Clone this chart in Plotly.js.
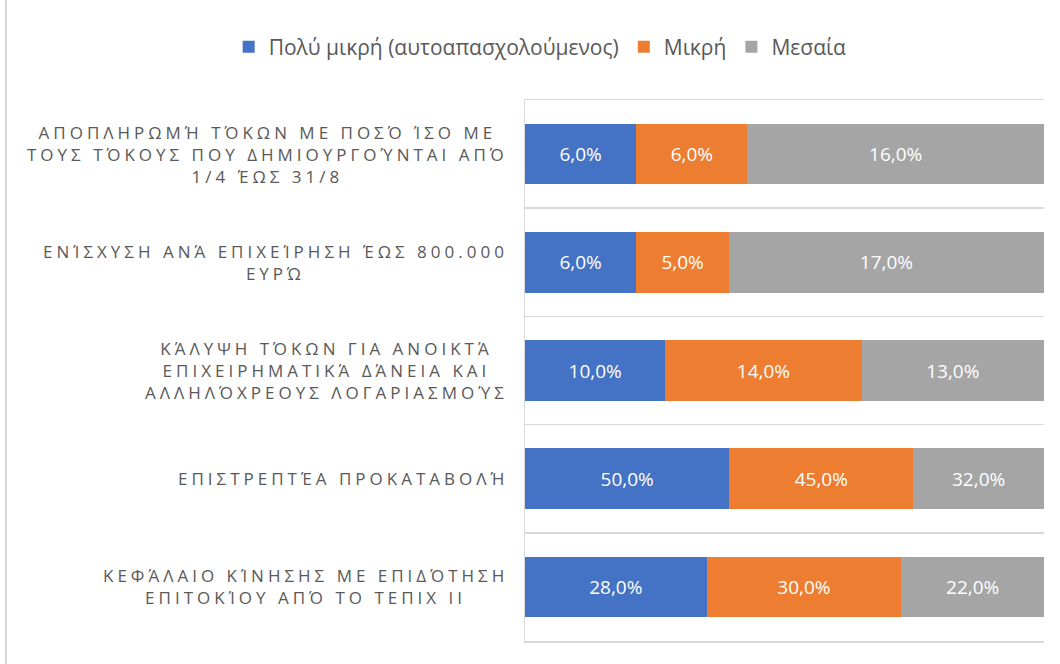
<!DOCTYPE html>
<html>
<head>
<meta charset="utf-8">
<script src="https://cdn.plot.ly/plotly-3.0.1.min.js"></script>
<style>
  body { margin: 0; background: #fff; }
  #chart { width: 1060px; height: 664px; }
  #edge { position: absolute; left: 5px; top: 0; width: 2px; height: 664px; background: #d9d9d9; }
  .annotation-text { letter-spacing: 4px; }
</style>
</head>
<body>
<div id="edge"></div>
<div id="chart"></div>
<script>
const categories = [
  "ΑΠΟΠΛΗΡΩΜΉ ΤΌΚΩΝ ΜΕ ΠΟΣΌ ΊΣΟ ΜΕ<br>ΤΟΥΣ ΤΌΚΟΥΣ ΠΟΥ ΔΗΜΙΟΥΡΓΟΎΝΤΑΙ ΑΠΌ<br>1/4 ΈΩΣ 31/8",
  "ΕΝΊΣΧΥΣΗ ΑΝΆ ΕΠΙΧΕΊΡΗΣΗ ΈΩΣ 800.000<br>ΕΥΡΏ",
  "ΚΆΛΥΨΗ ΤΌΚΩΝ ΓΙΑ ΑΝΟΙΚΤΆ<br>ΕΠΙΧΕΙΡΗΜΑΤΙΚΆ ΔΆΝΕΙΑ ΚΑΙ<br>ΑΛΛΗΛΌΧΡΕΟΥΣ ΛΟΓΑΡΙΑΣΜΟΎΣ",
  "ΕΠΙΣΤΡΕΠΤΈΑ ΠΡΟΚΑΤΑΒΟΛΉ",
  "ΚΕΦΆΛΑΙΟ ΚΊΝΗΣΗΣ ΜΕ ΕΠΙΔΌΤΗΣΗ<br>ΕΠΙΤΟΚΊΟΥ ΑΠΌ ΤΟ ΤΕΠΙΧ ΙΙ"
];
const seriesNames = ["Πολύ μικρή (αυτοαπασχολούμενος)", "Μικρή", "Μεσαία"];
const veryS = [6, 6, 10, 50, 28];
const small = [6, 5, 14, 45, 30];
const medium = [16, 17, 13, 32, 22];
const colors = ["#4472C4", "#ED7D31", "#A5A5A5"];

const fmt = v => v.toFixed(1).replace('.', ',') + '%';
const allSeries = [veryS, small, medium];

const traces = allSeries.map((vals, i) => ({
  type: 'bar',
  orientation: 'h',
  name: seriesNames[i],
  y: categories,
  x: vals,
  text: vals.map(fmt),
  textposition: 'inside',
  insidetextanchor: 'middle',
  textangle: 0,
  constraintext: 'none',
  textfont: { family: 'Open Sans', size: 19, color: '#ffffff' },
  marker: { color: colors[i], line: { width: 0 } },
  hoverinfo: 'skip'
}));

const annotations = categories.map(c => ({
  xref: 'paper', yref: 'y',
  x: -0.0285, y: c,
  xanchor: 'right', yanchor: 'middle',
  align: 'center',
  text: c,
  showarrow: false,
  font: { family: 'Open Sans', size: 17, color: '#595959' }
}));

const layout = {
  width: 1060, height: 664,
  margin: { l: 525, r: 16, t: 100, b: 23, autoexpand: false },
  paper_bgcolor: 'rgba(0,0,0,0)',
  plot_bgcolor: '#ffffff',
  barmode: 'stack',
  barnorm: 'percent',
  bargap: 0.44,
  showlegend: true,
  legend: {
    orientation: 'h',
    xref: 'paper', yref: 'paper',
    x: -0.571, xanchor: 'left',
    y: 1.098, yanchor: 'middle',
    font: { family: 'Open Sans', size: 21, color: '#595959' },
    traceorder: 'normal',
    itemwidth: 30,
    tracegroupgap: 0
  },
  xaxis: {
    range: [0, 100],
    showgrid: false, zeroline: false, showticklabels: false, ticks: '',
    showline: true, mirror: true, linecolor: '#d9d9d9', linewidth: 1.5
  },
  yaxis: {
    type: 'category',
    autorange: 'reversed',
    showticklabels: false,
    tickson: 'boundaries',
    ticks: '',
    showgrid: true, gridcolor: '#d9d9d9', gridwidth: 1.5,
    showline: true, linecolor: '#d9d9d9', linewidth: 1.5,
    zeroline: false
  },
  annotations: annotations,
  separators: ',.'
};

Plotly.newPlot('chart', traces, layout, { displayModeBar: false, staticPlot: true });
</script>
</body>
</html>
